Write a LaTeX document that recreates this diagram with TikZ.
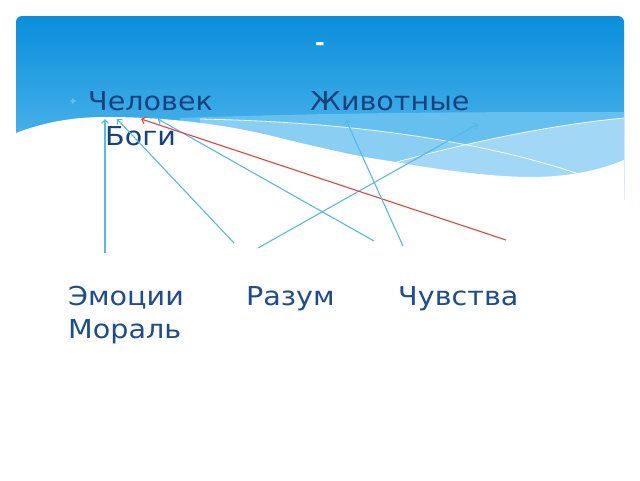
\documentclass[tikz,border=0pt]{standalone}
\usepackage{fontspec}
\setmainfont[FakeStretch=1.1]{DejaVu Sans}
\usetikzlibrary{arrows.meta}
\definecolor{skytop}{HTML}{0A8EDB}
\definecolor{skybot}{HTML}{62C0EF}
\definecolor{bandm}{HTML}{66C0EF}
\definecolor{bandl}{HTML}{8ACEF3}
\definecolor{bandx}{HTML}{A2D8F6}
\definecolor{txtdark}{HTML}{16417F}
\definecolor{txtbot}{HTML}{1E4C8C}
\definecolor{linkblue}{HTML}{55B9EA}
\definecolor{linkred}{HTML}{E5443C}
\tikzset{
  word/.style={anchor=base west, inner sep=0pt, font=\fontsize{26}{31}\selectfont},
  topword/.style={word, text=txtdark},
  botword/.style={word, text=txtbot},
  link/.style={draw=linkblue, line width=1.1pt, -{Straight Barb[length=3.5pt,width=7pt]}},
  redlink/.style={link, draw=linkred},
}
\begin{document}
\begin{tikzpicture}[x=1pt,y=-1pt]
\useasboundingbox (0,0) rectangle (640,480);
\fill[white] (0,0) rectangle (640,480);
% sky
\shade[top color=skytop, bottom color=skybot, rounded corners=6pt]
  (16,190) -- (16,16) -- (624,16) -- (624,190) -- cycle;
% bands
\fill[bandm] (180,118) .. controls (350,112) and (500,112) .. (624,112) -- (624,200) -- (180,200) -- cycle;
\fill[bandl] (200,119) .. controls (350,122) and (480,140) .. (585,176) -- (624,176) -- (624,200) -- (200,200) -- cycle;
\fill[bandx] (393,163) .. controls (470,142) and (550,125) .. (624,118) -- (624,200) -- (393,200) -- cycle;
% thin white lines
\draw[white, line width=0.8pt, opacity=0.85] (200,119) .. controls (350,122) and (480,140) .. (585,176);
\draw[white, line width=0.8pt, opacity=0.85] (393,163) .. controls (470,142) and (550,125) .. (624,118);
% white hill
\fill[white] (16,133) .. controls (50,120) and (80,117) .. (106,117)
  .. controls (170,117) and (230,125) .. (280,138)
  .. controls (330,150) and (360,157) .. (390,161)
  .. controls (450,172) and (500,177) .. (530,177)
  .. controls (570,177) and (600,170) .. (624,160)
  -- (624,480) -- (16,480) -- cycle;
% title
\node[text=white, font=\bfseries\fontsize{22}{26}\selectfont, inner sep=0pt] (title) at (320,47) {-};
% bullet
\fill[bandm] (73,97.5) -- (74,100) -- (76.5,101) -- (74,102) -- (73,104.5) -- (72,102) -- (69.5,101) -- (72,100) -- cycle;
% words
\node[topword] (chel) at (88,110) {Человек};
\node[topword] (zhiv) at (310,110) {Животные};
\node[topword] (bogi) at (105,145) {Боги};
\node[botword] (emo) at (68,305) {Эмоции};
\node[botword] (raz) at (246,305) {Разум};
\node[botword] (chuv) at (398,305) {Чувства};
\node[botword] (mor) at (68,338) {Мораль};
% connector ends
\coordinate (s1) at (105,253);
\coordinate (t1) at (105,119);
\coordinate (s2) at (234,243);
\coordinate (t2) at (117,119);
\coordinate (s3) at (258,248);
\coordinate (t3) at (478,124);
\coordinate (s4) at (374,241);
\coordinate (t4) at (158,119);
\coordinate (s5) at (506,240);
\coordinate (t5) at (141,119);
\coordinate (s6) at (403,246);
\coordinate (t6) at (346,120);
\draw[link] (s1) -- (t1);
\draw[link] (s2) -- (t2);
\draw[link] (s3) -- (t3);
\draw[link] (s4) -- (t4);
\draw[redlink] (s5) -- (t5);
\draw[link] (s6) -- (t6);
\end{tikzpicture}
\end{document}
